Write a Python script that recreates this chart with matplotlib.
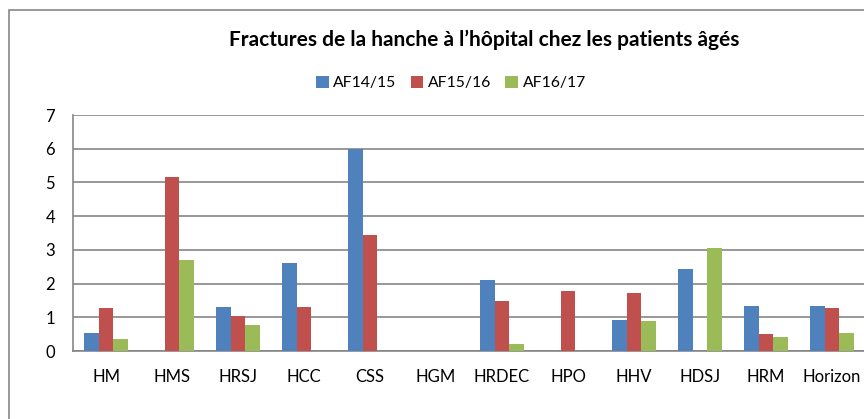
import numpy as np
import matplotlib
matplotlib.use("Agg")
import matplotlib.pyplot as plt
from matplotlib.patches import Rectangle

# data
hospitals = ["HM", "HMS", "HRSJ", "HCC", "CSS", "HGM", "HRDEC", "HPO", "HHV", "HDSJ", "HRM", "Horizon"]
af14_15 = [0.53, 0, 1.31, 2.62, 5.98, 0, 2.11, 0, 0.91, 2.43, 1.34, 1.34]
af15_16 = [1.27, 5.15, 1.05, 1.31, 3.44, 0, 1.48, 1.77, 1.73, 0, 0.50, 1.28]
af16_17 = [0.36, 2.71, 0.77, 0, 0, 0, 0.20, 0, 0.89, 3.05, 0.42, 0.54]
series_names = ["AF14/15", "AF15/16", "AF16/17"]
colors = ["#4F81BD", "#C0504D", "#9BBB59"]

plt.rcParams['font.family'] = ['Lato', 'DejaVu Sans']

fig = plt.figure(figsize=(8.64, 4.19), dpi=100)
W, H = 864, 419
ax = fig.add_axes([73 / W, 1 - 351 / H, (865 - 73) / W, (351 - 115) / H])

x = np.arange(len(hospitals))
w = 0.222
for i, vals in enumerate([af14_15, af15_16, af16_17]):
    ax.bar(x + (i - 1) * w, vals, w, color=colors[i], label=series_names[i], zorder=3)

ax.set_xlim(-0.5, len(hospitals) - 0.5)
ax.set_ylim(0, 7)
ax.set_yticks(range(0, 8))
ax.set_xticks(x)
ax.set_xticklabels(hospitals)
ax.tick_params(axis='both', length=0, labelsize=12, colors="black")
ax.tick_params(axis='x', pad=13)
ax.tick_params(axis='y', pad=13)
ax.grid(axis='y', color="#868686", linewidth=1.2, zorder=0)
for s in ["top", "right"]:
    ax.spines[s].set_visible(False)
for s in ["left", "bottom"]:
    ax.spines[s].set_color("#868686")
    ax.spines[s].set_linewidth(1.2)

fig.text(484 / W, 1 - 40 / H, "Fractures de la hanche à l’hôpital chez les patients âgés",
         ha="center", va="center", fontsize=15, fontweight="bold")

handles, labels = ax.get_legend_handles_labels()
fig.legend(handles, labels, loc="center", bbox_to_anchor=(451 / W, 1 - 83 / H), ncol=3,
           frameon=False, fontsize=11.3, handlelength=0.8, handleheight=0.8,
           handletextpad=0.3, columnspacing=0.9)

# outer chart border (cut off at right and bottom)
fig.patches.append(Rectangle((8.5 / W, -0.1), 2, 1.1 - 10 / H, transform=fig.transFigure,
                             fill=False, edgecolor="#888888", linewidth=1.2))

fig.savefig("out.png", dpi=100)
